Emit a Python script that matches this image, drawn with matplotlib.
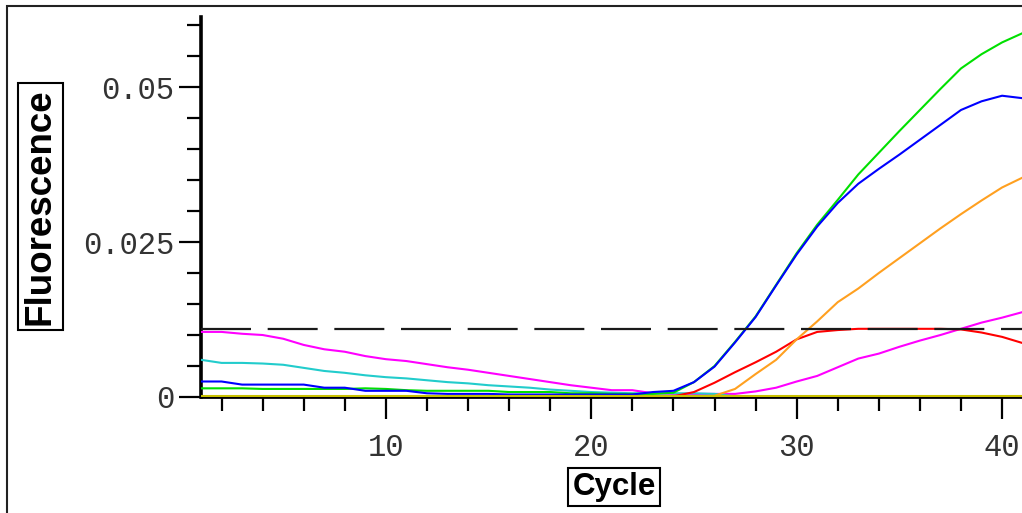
import matplotlib
matplotlib.use("Agg")
import matplotlib.pyplot as plt
from matplotlib.patches import Rectangle
from matplotlib.ticker import MultipleLocator, FixedLocator

# data (baseline-corrected fluorescence per cycle)
cycles = list(range(1, 42))

magenta = [0.0105, 0.0105, 0.0102, 0.0100, 0.0094, 0.0084, 0.0077, 0.0073, 0.0066, 0.0061,
           0.0058, 0.0053, 0.0048, 0.0044, 0.0039, 0.0034, 0.0029, 0.0024, 0.0019, 0.0015,
           0.0011, 0.0011, 0.0006, 0.0005, 0.0005, 0.0005, 0.0005, 0.0009, 0.0015, 0.0025,
           0.0034, 0.0048, 0.0062, 0.0070, 0.0081, 0.0091, 0.0100, 0.0110, 0.0120, 0.0128, 0.0137]
cyan = [0.0060, 0.0055, 0.0055, 0.0054, 0.0052, 0.0047, 0.0042, 0.0039, 0.0035, 0.0032,
        0.0030, 0.0027, 0.0024, 0.0022, 0.0019, 0.0017, 0.0015, 0.0012, 0.0010, 0.0008,
        0.0007, 0.0006, 0.0006, 0.0006, 0.0006, 0.0005, 0.0001, 0.0001, 0.0001, 0.0001,
        0.0001, 0.0001, 0.0001, 0.0001, 0.0001, 0.0001, 0.0001, 0.0001, 0.0001, 0.0001, 0.0001]
blue = [0.0025, 0.0025, 0.0020, 0.0020, 0.0020, 0.0020, 0.0015, 0.0015, 0.0010, 0.0010,
        0.0010, 0.0006, 0.0005, 0.0005, 0.0005, 0.0004, 0.0004, 0.0004, 0.0004, 0.0004,
        0.0004, 0.0004, 0.0008, 0.0010, 0.0024, 0.0049, 0.0088, 0.0129, 0.0180, 0.0230,
        0.0275, 0.0313, 0.0344, 0.0368, 0.0391, 0.0415, 0.0439, 0.0463, 0.0477, 0.0486, 0.0482]
green = [0.0014, 0.0014, 0.0014, 0.0013, 0.0013, 0.0013, 0.0013, 0.0013, 0.0014, 0.0013,
         0.0011, 0.0010, 0.0010, 0.0010, 0.0010, 0.0008, 0.0008, 0.0008, 0.0006, 0.0006,
         0.0005, 0.0005, 0.0005, 0.0007, 0.0024, 0.0050, 0.0089, 0.0130, 0.0181, 0.0232,
         0.0278, 0.0318, 0.0359, 0.0394, 0.0429, 0.0463, 0.0497, 0.0530, 0.0553, 0.0572, 0.0587]
red = [0.0001, 0.0001, 0.0001, 0.0001, 0.0001, 0.0001, 0.0001, 0.0001, 0.0001, 0.0001,
       0.0001, 0.0001, 0.0001, 0.0001, 0.0001, 0.0001, 0.0001, 0.0001, 0.0001, 0.0001,
       0.0001, 0.0001, 0.0001, 0.0001, 0.0008, 0.0023, 0.0040, 0.0056, 0.0073, 0.0093,
       0.0105, 0.0108, 0.0110, 0.0110, 0.0110, 0.0110, 0.0110, 0.0109, 0.0104, 0.0097, 0.0087]
orange = [0.0001, 0.0001, 0.0001, 0.0001, 0.0001, 0.0001, 0.0001, 0.0001, 0.0001, 0.0001,
          0.0001, 0.0001, 0.0001, 0.0001, 0.0001, 0.0001, 0.0001, 0.0001, 0.0001, 0.0001,
          0.0001, 0.0001, 0.0001, 0.0001, 0.0001, 0.0002, 0.0013, 0.0037, 0.0060, 0.0093,
          0.0122, 0.0153, 0.0175, 0.0200, 0.0224, 0.0248, 0.0272, 0.0295, 0.0317, 0.0338, 0.0354]
yellow = [0.0001, 0.0001, 0.0001, 0.0001, 0.0001, 0.0001, 0.0001, 0.0001, 0.0001, 0.0001,
          0.0001, 0.0001, 0.0001, 0.0001, 0.0001, 0.0001, 0.0001, 0.0001, 0.0001, 0.0001,
          0.0001, 0.0001, 0.0001, 0.0001, 0.0001, 0.0001, 0.0001, 0.0001, 0.0001, 0.0001,
          0.0001, 0.0001, 0.0001, 0.0001, 0.0001, 0.0001, 0.0001, 0.0001, 0.0001, 0.0001, 0.0001]

threshold = 0.011

series = [
    (magenta, "#ff00ff"),
    (cyan, "#22cccc"),
    (red, "#ff0000"),
    (orange, "#ffa020"),
    (green, "#00e000"),
    (blue, "#0000ff"),
    (yellow, "#c8c000"),
]

W, H = 1022, 513
fig = plt.figure(figsize=(W / 100, H / 100), dpi=100)
ax = fig.add_axes([201 / W, 1 - 397 / H, 1 - 201 / W, (397 - 17) / H])

for vals, col in series:
    ax.plot(cycles, vals, color=col, lw=1.5, solid_joinstyle="miter", zorder=3)

ax.axhline(threshold, color="#1a1a1a", lw=1.6, dashes=(22.5, 7.5), zorder=5)

ax.set_xlim(1, 40.97)
ax.set_ylim(0, 0.0613)

ax.spines["top"].set_visible(False)
ax.spines["right"].set_visible(False)
ax.spines["left"].set_linewidth(2.6)
ax.spines["bottom"].set_linewidth(2.0)

ax.xaxis.set_major_locator(FixedLocator([10, 20, 30, 40]))
ax.xaxis.set_minor_locator(FixedLocator([2, 4, 6, 8, 12, 14, 16, 18, 22, 24, 26, 28, 32, 34, 36, 38]))
ax.yaxis.set_major_locator(FixedLocator([0, 0.025, 0.05]))
ax.yaxis.set_minor_locator(MultipleLocator(0.005))
ax.set_xticklabels(["10", "20", "30", "40"])
ax.set_yticklabels(["0", "0.025", "0.05"])

for lab in ax.get_xticklabels() + ax.get_yticklabels():
    lab.set_fontfamily("Liberation Mono")
    lab.set_fontsize(22)
    lab.set_color("#333333")

ax.tick_params(axis="x", which="major", direction="out", length=16, width=1.6, pad=10)
ax.tick_params(axis="x", which="minor", direction="out", length=10, width=1.6)
ax.tick_params(axis="y", which="major", direction="out", length=16, width=1.6, pad=3)
ax.tick_params(axis="y", which="minor", direction="out", length=10, width=1.6)

box = dict(boxstyle="square,pad=0.14", facecolor="white", edgecolor="black", lw=1.5)
fig.text(40.5 / W, 1 - 206.5 / H, "Fluorescence", rotation=90, ha="center", va="center",
         fontfamily="Liberation Sans", fontweight="bold", fontsize=26.5, bbox=box)
fig.text(614 / W, 1 - 487 / H, "Cycle", ha="center", va="center",
         fontfamily="Liberation Sans", fontweight="bold", fontsize=22.5, bbox=box)

# outer frame, cut by the right and bottom edges of the picture
fig.add_artist(Rectangle((7 / W, -0.1), 1.2, 1.1 - 6.5 / H, transform=fig.transFigure,
                         fill=False, edgecolor="#222222", lw=1.5, clip_on=False))

fig.savefig("out.png", dpi=100)
